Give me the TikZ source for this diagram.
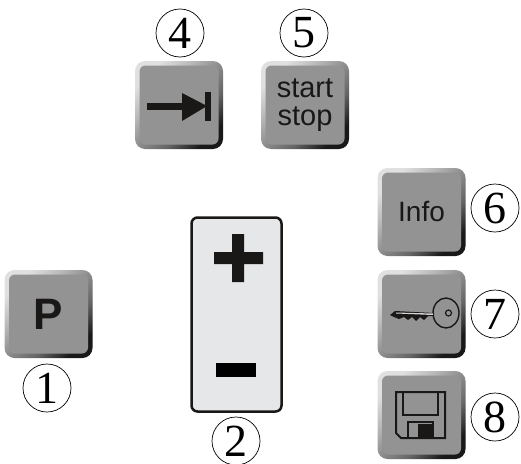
\documentclass[tikz,border=0pt]{standalone}
\usepackage{fontspec}
\setmainfont{Liberation Serif}
\setsansfont{Liberation Sans}
\pgfdeclarehorizontalshading{keyrim}{100bp}{
  rgb(0bp)=(0.88,0.88,0.88);
  rgb(25bp)=(0.88,0.88,0.88);
  rgb(38bp)=(0.72,0.72,0.72);
  rgb(50bp)=(0.55,0.55,0.55);
  rgb(62bp)=(0.40,0.40,0.40);
  rgb(70bp)=(0.22,0.22,0.22);
  rgb(75bp)=(0.10,0.10,0.10);
  rgb(100bp)=(0.10,0.10,0.10)}
\definecolor{keygray}{HTML}{939393}
\definecolor{icondark}{HTML}{1A1717}
\definecolor{panelgray}{HTML}{E6E7E8}
\tikzset{
  keyface/.style={rectangle,rounded corners=10pt,inner sep=0pt,minimum width=88pt,minimum height=88pt,
    shading=keyrim,shading angle=-45},
  keytop/.style={rectangle,rounded corners=6pt,inner sep=0pt,minimum width=79pt,minimum height=79pt,
    fill=keygray,align=center,text=icondark},
  numcircle/.style={circle,draw=black,line width=0.7pt,fill=white,minimum size=48pt,inner sep=0pt,
    font=\fontsize{46}{46}\selectfont},
  iconline/.style={draw=icondark,line width=2pt,fill=none}
}
\newcommand{\keybutton}[5]{%
  \node[keyface] (#1o) at (#2,#3) {};
  \node[keytop,font=#4] (#1) at (#2,#3) {#5};
}
\begin{document}
\begin{tikzpicture}[x=1pt,y=-1pt]
\useasboundingbox (0,0) rectangle (521,463);
\keybutton{keyP}{48.5}{314}{\sffamily\bfseries\fontsize{44}{44}\selectfont}{P}
\keybutton{keyFour}{179}{105}{\sffamily}{}
\keybutton{keyFive}{305}{105}{\sffamily\fontsize{29}{28}\selectfont}{start\\stop}
\keybutton{keyInfo}{421.5}{212}{\sffamily\fontsize{28}{28}\selectfont}{Info}
\keybutton{keyKey}{421.5}{314}{\sffamily}{}
\keybutton{keySave}{421.5}{415}{\sffamily}{}
% numbers
\node[numcircle] (n4) at (180,33) {4};
\node[numcircle] (n5) at (304,33) {5};
\node[numcircle] (n6) at (495,208) {6};
\node[numcircle] (n7) at (495,314) {7};
\node[numcircle] (n8) at (495,417) {8};
\node[numcircle] (n1) at (47,388) {1};
\node[numcircle] (n2) at (236,441) {2};
% panel
\node[rectangle,draw=icondark,line width=2.5pt,fill=panelgray,rounded corners=6pt,inner sep=0pt,
  minimum width=90pt,minimum height=194pt] (panel) at (236.5,314.5) {};
\fill[icondark] (214,252) -- (232,252) -- (232,234) -- (244,234) -- (244,252) -- (263,252)
  -- (263,264) -- (244,264) -- (244,282) -- (232,282) -- (232,264) -- (214,264) -- cycle;
\fill[black] (216,363) rectangle (256,377);
% arrow icon
\fill[icondark] (147,102.5) rectangle (184,109.5);
\fill[icondark] (182,93) -- (207,106) -- (182,121) -- cycle;
\fill[icondark] (205,92) rectangle (211,121);
% key icon
\draw[icondark,line width=1.4pt,fill=keygray] (446,313) ellipse (13 and 15);
\draw[icondark,line width=1.2pt] (448.5,313) circle (3);
\fill[icondark] (390,315) -- (395,311) -- (434,313) -- (434,316) -- (428,316) -- (424,320)
  -- (420,317) -- (416,321) -- (412,317) -- (408,320) -- (404,317) -- (399,319) -- (394,317) -- cycle;
\fill[keygray!40] (396,313.5) -- (433,315) -- (433,313.5) -- (396,312.5) -- cycle;
% floppy icon
\draw[iconline] (396,392) -- (445,392) -- (445,438) -- (401,438) -- (396,433) -- cycle;
\draw[iconline] (403,392) -- (403,415) -- (438,415) -- (438,392);
\draw[iconline] (408,438) -- (408,422) -- (433,422) -- (433,438);
\fill[icondark] (418,424) rectangle (432,438);
\end{tikzpicture}
\end{document}
